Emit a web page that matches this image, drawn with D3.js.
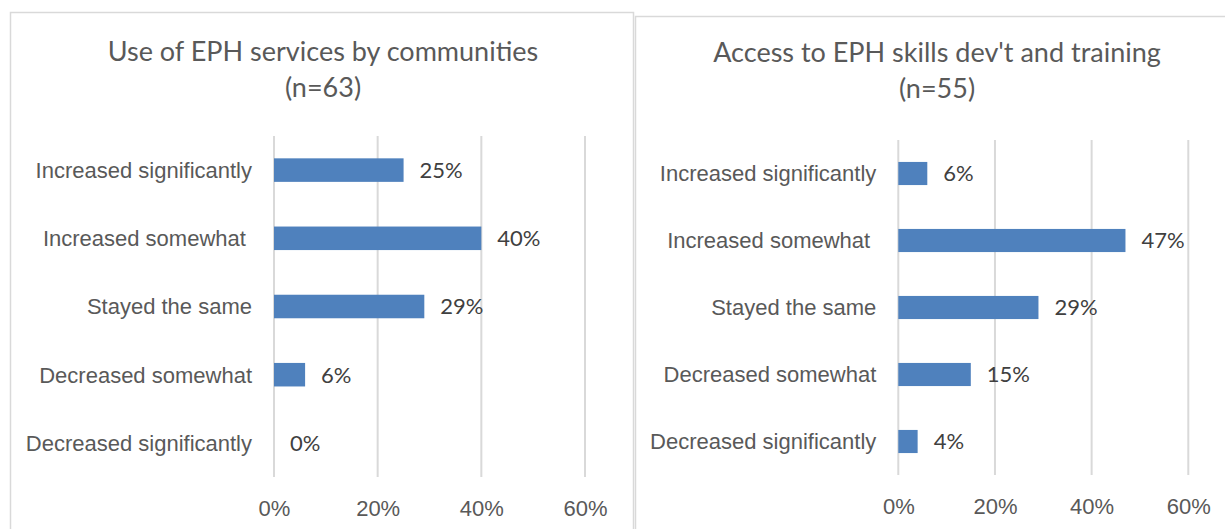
<!DOCTYPE html>
<html>
<head>
<meta charset="utf-8">
<script src="https://cdn.jsdelivr.net/npm/d3@7"></script>
<style>
  html, body { margin: 0; padding: 0; background: #ffffff; }
  svg { display: block; font-family: Lato, "Open Sans", sans-serif; }
  .cat text { white-space: pre; }
</style>
</head>
<body>
<svg id="chart" width="1225" height="529"></svg>
<script>
// Survey response categories, shared by both panels (the trailing space is part of the label)
const categories = [
  "Increased significantly",
  "Increased somewhat ",
  "Stayed the same",
  "Decreased somewhat",
  "Decreased significantly"
];

// Share of respondents per category
const useOfServices = [0.25, 0.40, 0.29, 0.06, 0.00];
const accessToTraining = [0.06, 0.47, 0.29, 0.15, 0.04];

// Axis ticks
const xTicks = [0, 0.2, 0.4, 0.6];

// Panel titles
const titleUse = ["Use of EPH services by communities", "(n=63)"];
const titleAccess = ["Access to EPH skills dev't and training", "(n=55)"];

const svg = d3.select("#chart");
const pct = d3.format(".0%");

const BAR = "#4f81bd";
const GRID = "#d9d9d9";
const LABEL = "#595959";
const DATA_LABEL = "#404040";
const FS = 22;
const TITLE_FS = 27;

function drawPanel(cfg) {
  const g = svg.append("g");

  // chart frame
  g.append("rect")
    .attr("x", cfg.frame.x).attr("y", cfg.frame.y)
    .attr("width", cfg.frame.w).attr("height", cfg.frame.h)
    .attr("fill", "#ffffff").attr("stroke", GRID).attr("stroke-width", 1.5);

  const x = d3.scaleLinear().domain([0, 0.6]).range(cfg.xRange);
  const y = d3.scaleBand().domain(categories).range(cfg.yRange)
    .paddingInner(0.655).paddingOuter(0.3275);

  // vertical gridlines
  g.append("g").selectAll("line").data(xTicks).join("line")
    .attr("x1", d => x(d)).attr("x2", d => x(d))
    .attr("y1", cfg.yRange[0]).attr("y2", cfg.yRange[1])
    .attr("stroke", GRID).attr("stroke-width", 2);

  // bars
  g.append("g").selectAll("rect").data(cfg.values).join("rect")
    .attr("x", x(0))
    .attr("y", (d, i) => y(categories[i]))
    .attr("width", d => x(d) - x(0))
    .attr("height", y.bandwidth())
    .attr("fill", BAR);

  // value labels
  g.append("g").selectAll("text").data(cfg.values).join("text")
    .attr("x", d => x(d) + 16)
    .attr("y", (d, i) => y(categories[i]) + y.bandwidth() / 2)
    .attr("dy", "0.36em")
    .attr("font-size", FS)
    .attr("fill", DATA_LABEL)
    .text(d => pct(d));

  // category axis
  const yAxis = g.append("g").attr("class", "cat")
    .attr("transform", `translate(${x(0)},0)`)
    .call(d3.axisLeft(y).tickSize(0).tickPadding(22));
  yAxis.select(".domain").remove();
  yAxis.selectAll("text").attr("font-size", FS).attr("fill", LABEL)
    .attr("font-family", null).attr("dy", "0.36em");

  // value axis
  const xAxis = g.append("g")
    .attr("transform", `translate(0,${cfg.tickY})`)
    .call(d3.axisBottom(x).tickValues(xTicks).tickFormat(pct).tickSize(0).tickPadding(0));
  xAxis.select(".domain").remove();
  xAxis.selectAll("text").attr("font-size", FS).attr("fill", LABEL)
    .attr("font-family", null).attr("dy", "0.36em");

  // title
  g.append("text")
    .attr("x", cfg.titleX)
    .attr("text-anchor", "middle")
    .attr("font-size", TITLE_FS)
    .attr("fill", LABEL)
    .selectAll("tspan").data(cfg.title).join("tspan")
    .attr("x", cfg.titleX)
    .attr("y", (d, i) => cfg.titleY + i * 36)
    .text(d => d);
}

drawPanel({
  frame: { x: 10.5, y: 12.5, w: 623, h: 530 },
  xRange: [274, 585],
  yRange: [136, 477],
  tickY: 508,
  values: useOfServices,
  title: titleUse,
  titleX: 323,
  titleY: 61
});

drawPanel({
  frame: { x: 635.5, y: 16.5, w: 610, h: 530 },
  xRange: [898.3, 1188.3],
  yRange: [140, 475],
  tickY: 506,
  values: accessToTraining,
  title: titleAccess,
  titleX: 937,
  titleY: 62
});
</script>
</body>
</html>
